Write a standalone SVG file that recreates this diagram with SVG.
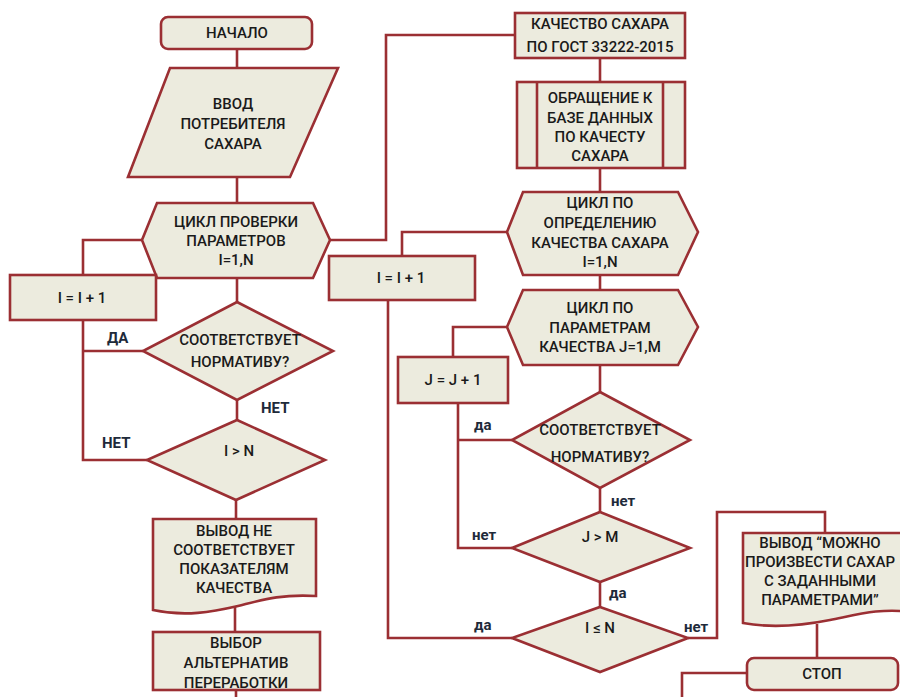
<svg xmlns="http://www.w3.org/2000/svg" width="900" height="697" viewBox="0 0 900 697">
<style>
.s{fill:#ecebde;stroke:#9b2f33;stroke-width:2.6;stroke-linejoin:miter}
.c{fill:none;stroke:#9b2f33;stroke-width:2.6}
.t{font-family:Roboto,"Liberation Sans",sans-serif;font-weight:500;font-size:15px;fill:#1a1a1a;text-anchor:middle;dominant-baseline:central}
.l{font-family:Roboto,"Liberation Sans",sans-serif;font-weight:700;font-size:15px;fill:#1e2a3a;dominant-baseline:central}
</style>
<rect width="900" height="697" fill="#ffffff"/>
<g id="connectors">
<path class="c" d="M237,49 V68"/>
<path class="c" d="M237,177 V203"/>
<path class="c" d="M142,240 H83 V275"/>
<path class="c" d="M83,320 V460 H147"/>
<path class="c" d="M83,351 H143"/>
<path class="c" d="M237,278 V302"/>
<path class="c" d="M237,400 V420"/>
<path class="c" d="M236,500 V519"/>
<path class="c" d="M235,605 V632"/>
<path class="c" d="M236,690 V697"/>
<path class="c" d="M330,240 H386 V35 H515"/>
<path class="c" d="M600,58 V82"/>
<path class="c" d="M600,168 V192"/>
<path class="c" d="M507,232 H402 V256"/>
<path class="c" d="M388,300 V638 H512"/>
<path class="c" d="M600,275 V290"/>
<path class="c" d="M507,327 H453 V357"/>
<path class="c" d="M600,365 V392"/>
<path class="c" d="M458,403 V548 H512"/>
<path class="c" d="M458,440 H512"/>
<path class="c" d="M600,488 V512"/>
<path class="c" d="M600,582 V607"/>
<path class="c" d="M688,638 H717 V512 H825 V533"/>
<path class="c" d="M817,624 V658"/>
<path class="c" d="M747,673 H682 V697"/>
</g>
<g id="start">
<rect class="s" x="161" y="17" width="151" height="32" rx="7"/>
<text class="t" x="237" y="33">НАЧАЛО</text>
</g>
<g id="input">
<polygon class="s" points="170,68 338,68 290,177 128,177"/>
<text class="t" x="233" y="104">ВВОД</text>
<text class="t" x="233" y="124">ПОТРЕБИТЕЛЯ</text>
<text class="t" x="233" y="144">САХАРА</text>
</g>
<g id="loop1">
<polygon class="s" points="157,203 313,203 330,240 313,278 157,278 142,240"/>
<text class="t" x="236" y="222">ЦИКЛ ПРОВЕРКИ</text>
<text class="t" x="236" y="241">ПАРАМЕТРОВ</text>
<text class="t" x="236" y="260">I=1,N</text>
</g>
<g id="inc1">
<rect class="s" x="10" y="275" width="146" height="45"/>
<text class="t" x="82" y="298">I = I + 1</text>
</g>
<g id="check1">
<polygon class="s" points="237,302 333,351 237,400 143,351"/>
<text class="t" x="240" y="340">СООТВЕТСТВУЕТ</text>
<text class="t" x="240" y="362">НОРМАТИВУ?</text>
</g>
<g id="cmp1">
<polygon class="s" points="237,420 325,460 236,500 147,460"/>
<text class="t" x="239" y="451">I &gt; N</text>
</g>
<g id="out1">
<path class="s" d="M153,519 H316 V596 C280,594 262,600 238,606 C212,612 185,617 153,610 Z"/>
<text class="t" x="234" y="531">ВЫВОД НЕ</text>
<text class="t" x="234" y="550">СООТВЕТСТВУЕТ</text>
<text class="t" x="234" y="569">ПОКАЗАТЕЛЯМ</text>
<text class="t" x="234" y="588">КАЧЕСТВА</text>
</g>
<g id="choice">
<rect class="s" x="153" y="632" width="167" height="58"/>
<text class="t" x="236" y="643">ВЫБОР</text>
<text class="t" x="236" y="663">АЛЬТЕРНАТИВ</text>
<text class="t" x="236" y="683">ПЕРЕРАБОТКИ</text>
</g>
<g id="gost">
<rect class="s" x="515" y="13" width="170" height="45"/>
<text class="t" x="600" y="24">КАЧЕСТВО САХАРА</text>
<text class="t" x="600" y="47">ПО ГОСТ 33222-2015</text>
</g>
<g id="db">
<rect class="s" x="517" y="82" width="168" height="86"/>
<line class="c" x1="537" y1="82" x2="537" y2="168"/>
<line class="c" x1="663" y1="82" x2="663" y2="168"/>
<text class="t" x="600" y="98">ОБРАЩЕНИЕ К</text>
<text class="t" x="600" y="118">БАЗЕ ДАННЫХ</text>
<text class="t" x="600" y="137">ПО КАЧЕСТУ</text>
<text class="t" x="600" y="156">САХАРА</text>
</g>
<g id="loop2">
<polygon class="s" points="523,192 678,192 698,232 678,275 523,275 507,232"/>
<text class="t" x="600" y="203">ЦИКЛ ПО</text>
<text class="t" x="600" y="223">ОПРЕДЕЛЕНИЮ</text>
<text class="t" x="600" y="243">КАЧЕСТВА САХАРА</text>
<text class="t" x="600" y="262">I=1,N</text>
</g>
<g id="inc2">
<rect class="s" x="329" y="256" width="146" height="44"/>
<text class="t" x="401" y="278">I = I + 1</text>
</g>
<g id="loop3">
<polygon class="s" points="523,290 678,290 698,327 678,365 523,365 507,327"/>
<text class="t" x="600" y="308">ЦИКЛ ПО</text>
<text class="t" x="600" y="328">ПАРАМЕТРАМ</text>
<text class="t" x="600" y="347">КАЧЕСТВА J=1,M</text>
</g>
<g id="incj">
<rect class="s" x="398" y="357" width="110" height="46"/>
<text class="t" x="453" y="380">J = J + 1</text>
</g>
<g id="check2">
<polygon class="s" points="600,392 690,440 600,488 512,440"/>
<text class="t" x="600" y="430">СООТВЕТСТВУЕТ</text>
<text class="t" x="600" y="457">НОРМАТИВУ?</text>
</g>
<g id="cmpj">
<polygon class="s" points="600,512 690,548 600,582 512,548"/>
<text class="t" x="600" y="537">J &gt; M</text>
</g>
<g id="cmpi">
<polygon class="s" points="600,607 688,638 600,672 512,638"/>
<text class="t" x="600" y="628">I ≤ N</text>
</g>
<g id="out2">
<path class="s" d="M743,533 H912 V612 C880,608 860,614 830,620 C800,626 770,628 743,623 Z"/>
<text class="t" x="820" y="543">ВЫВОД “МОЖНО</text>
<text class="t" x="745" y="562" style="text-anchor:start">ПРОИЗВЕСТИ САХАР</text>
<text class="t" x="820" y="581">С ЗАДАННЫМИ</text>
<text class="t" x="820" y="600">ПАРАМЕТРАМИ”</text>
</g>
<g id="stop">
<rect class="s" x="747" y="658" width="151" height="32" rx="7"/>
<text class="t" x="822" y="674">СТОП</text>
</g>
<g id="labels">
<text class="l" x="107" y="338">ДА</text>
<text class="l" x="261" y="408">НЕТ</text>
<text class="l" x="102" y="443">НЕТ</text>
<text class="l" x="474" y="425">да</text>
<text class="l" x="611" y="501">нет</text>
<text class="l" x="472" y="535">нет</text>
<text class="l" x="609" y="593">да</text>
<text class="l" x="474" y="625">да</text>
<text class="l" x="684" y="627">нет</text>
</g>
</svg>
